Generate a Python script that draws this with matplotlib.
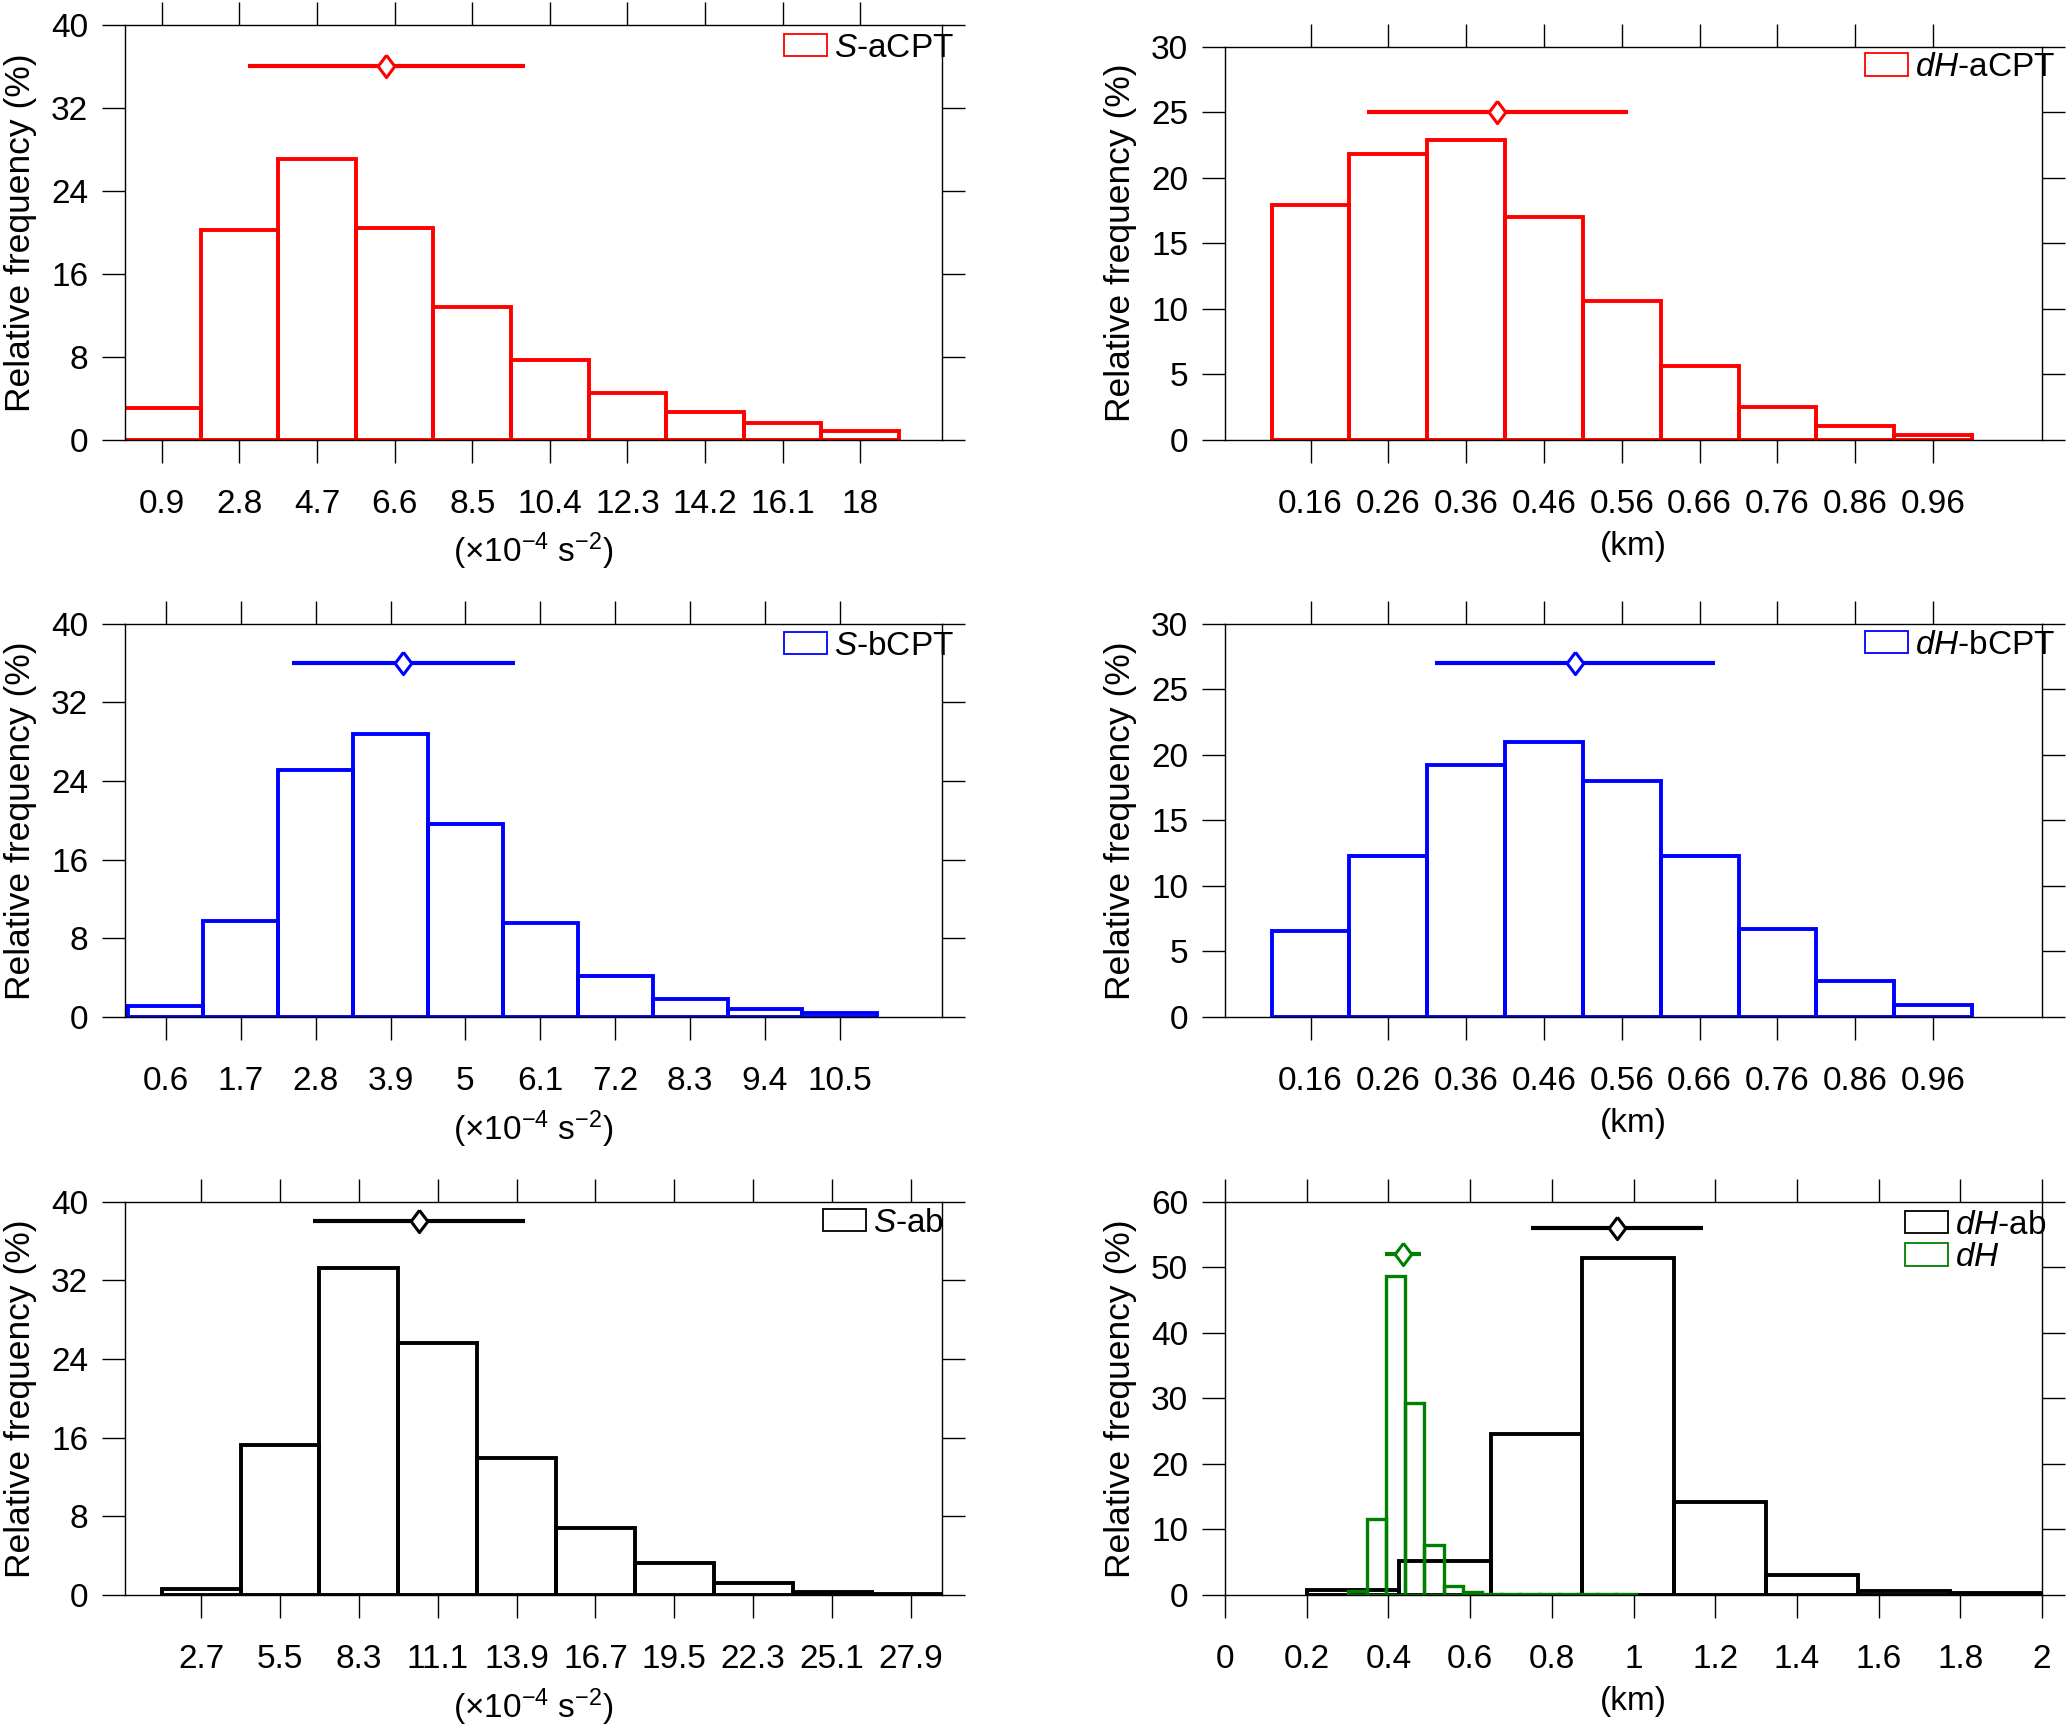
import matplotlib
matplotlib.use('Agg')
import matplotlib.pyplot as plt
from matplotlib.patches import Patch

plt.rcParams.update({
    'font.family': ['Liberation Sans', 'DejaVu Sans'],
    'mathtext.fontset': 'custom',
    'mathtext.rm': 'Liberation Sans',
    'mathtext.it': 'Liberation Sans:italic',
    'mathtext.default': 'regular',
})

# ---------------- data ----------------
# (a) S-aCPT
sa_centers = [0.9, 2.8, 4.7, 6.6, 8.5, 10.4, 12.3, 14.2, 16.1, 18.0]
sa_freq = [3.0, 20.2, 27.1, 20.4, 12.8, 7.7, 4.5, 2.7, 1.6, 0.8]
sa_labels = ['0.9', '2.8', '4.7', '6.6', '8.5', '10.4', '12.3', '14.2', '16.1', '18']
sa_mean, sa_spread, sa_level = 6.4, 3.4, 36

# (b) dH-aCPT
ha_centers = [0.16, 0.26, 0.36, 0.46, 0.56, 0.66, 0.76, 0.86, 0.96]
ha_freq = [17.9, 21.8, 22.9, 17.0, 10.6, 5.6, 2.5, 1.0, 0.35]
ha_labels = ['0.16', '0.26', '0.36', '0.46', '0.56', '0.66', '0.76', '0.86', '0.96']
ha_mean, ha_spread, ha_level = 0.40, 0.168, 25

# (c) S-bCPT
sb_centers = [0.6, 1.7, 2.8, 3.9, 5.0, 6.1, 7.2, 8.3, 9.4, 10.5]
sb_freq = [1.1, 9.8, 25.1, 28.8, 19.6, 9.6, 4.2, 1.8, 0.8, 0.45]
sb_labels = ['0.6', '1.7', '2.8', '3.9', '5', '6.1', '7.2', '8.3', '9.4', '10.5']
sb_mean, sb_spread, sb_level = 4.09, 1.64, 36

# (d) dH-bCPT
hb_centers = [0.16, 0.26, 0.36, 0.46, 0.56, 0.66, 0.76, 0.86, 0.96]
hb_freq = [6.55, 12.3, 19.25, 20.95, 18.0, 12.3, 6.7, 2.75, 0.9]
hb_labels = ha_labels
hb_mean, hb_spread, hb_level = 0.50, 0.18, 27

# (e) S-ab
sab_centers = [2.7, 5.5, 8.3, 11.1, 13.9, 16.7, 19.5, 22.3, 25.1, 27.9]
sab_freq = [0.6, 15.25, 33.3, 25.6, 13.9, 6.8, 3.2, 1.2, 0.26, 0.1]
sab_labels = ['2.7', '5.5', '8.3', '11.1', '13.9', '16.7', '19.5', '22.3', '25.1', '27.9']
sab_mean, sab_spread, sab_level = 10.45, 3.76, 38

# (f) dH-ab and dH
hab_centers = [0.3125, 0.5375, 0.7625, 0.9875, 1.2125, 1.4375, 1.6625, 1.8875]
hab_freq = [0.7, 5.1, 24.6, 51.4, 14.1, 2.95, 0.6, 0.25]
hab_mean, hab_spread, hab_level = 0.96, 0.21, 56
dh_centers = [0.3235, 0.3705, 0.4175, 0.4645, 0.5115, 0.5585, 0.6055, 0.6525,
              0.6995, 0.7465, 0.7935, 0.8405, 0.8875, 0.9345, 0.9815]
dh_freq = [0.5, 11.5, 48.7, 29.3, 7.6, 1.4, 0.45, 0.15, 0.1, 0.05, 0.05, 0.05, 0.05, 0.05, 0.05]
dh_mean, dh_spread, dh_level = 0.436, 0.044, 52
f_ticks = [0, 0.2, 0.4, 0.6, 0.8, 1.0, 1.2, 1.4, 1.6, 1.8, 2.0]
f_labels = ['0', '0.2', '0.4', '0.6', '0.8', '1', '1.2', '1.4', '1.6', '1.8', '2']

S_UNIT = '(×10$^{-4}$ s$^{-2}$)'
KM_UNIT = '(km)'

# ---------------- figure ----------------
W, H = 2067, 1730
fig = plt.figure(figsize=(W / 100, H / 100), dpi=100)

def px_axes(left, top, right, bottom):
    return [left / W, 1 - bottom / H, (right - left) / W, (bottom - top) / H]

DIAMOND = [(0, 1), (0.75, 0), (0, -1), (-0.75, 0), (0, 1)]
TICK_FS = 24

def setup(ax, xlim, ylim, yticks, xticks, xlabels, xlabel):
    ax.set_xlim(*xlim)
    ax.set_ylim(*ylim)
    ax.set_yticks(yticks)
    ax.set_xticks(xticks)
    ax.set_xticklabels(xlabels)
    ax.tick_params(which='both', direction='out', length=16.5, width=1.0,
                   top=True, right=True, labelsize=TICK_FS)
    ax.tick_params(axis='x', pad=19)
    ax.tick_params(axis='y', pad=10)
    for s in ax.spines.values():
        s.set_linewidth(1.0)
    ax.set_ylabel('Relative frequency (%)', fontsize=25.5, labelpad=10)
    ax.set_xlabel(xlabel, fontsize=TICK_FS, labelpad=8)

def hist(ax, centers, freq, width, color, lw=2.8):
    ax.bar(centers, freq, width=width, fill=False, edgecolor=color, linewidth=lw,
           align='center', zorder=2)

def spread(ax, mean, sd, level, color):
    ax.errorbar([mean], [level], xerr=[sd], fmt='none', ecolor=color,
                elinewidth=3.0, capsize=0, zorder=3)
    ax.plot([mean], [level], marker=DIAMOND, ms=16, mfc='white', mec=color,
            mew=2.2, linestyle='none', zorder=4)

def legend(ax, entries, anchor):
    handles = [Patch(facecolor='white', edgecolor=c, linewidth=1.3, label=l) for l, c in entries]
    ax.legend(handles=handles, loc='center left', bbox_to_anchor=anchor, frameon=False,
              borderpad=0, borderaxespad=0, handlelength=1.3, handleheight=0.66,
              handletextpad=0.2, fontsize=TICK_FS, labelspacing=0.05)

# (a)
ax = fig.add_axes(px_axes(125, 25, 942, 439.5))
hist(ax, sa_centers, sa_freq, 1.9, 'red')
spread(ax, sa_mean, sa_spread, sa_level, 'red')
setup(ax, (0, 20), (0, 40), [0, 8, 16, 24, 32, 40], sa_centers, sa_labels, S_UNIT)
legend(ax, [(r'$\mathit{S}$-aCPT', 'red')], (0.8066, 0.944))

# (b)
ax = fig.add_axes(px_axes(1225, 46.6, 2042, 439.5))
hist(ax, ha_centers, ha_freq, 0.1, 'red')
spread(ax, ha_mean, ha_spread, ha_level, 'red')
setup(ax, (0.05, 1.10), (0, 30), [0, 5, 10, 15, 20, 25, 30], ha_centers, ha_labels, KM_UNIT)
legend(ax, [(r'$\mathit{dH}$-aCPT', 'red')], (0.783, 0.946))

# (c)
ax = fig.add_axes(px_axes(125, 623.7, 942, 1017))
hist(ax, sb_centers, sb_freq, 1.1, 'blue')
spread(ax, sb_mean, sb_spread, sb_level, 'blue')
setup(ax, (0, 12), (0, 40), [0, 8, 16, 24, 32, 40], sb_centers, sb_labels, S_UNIT)
legend(ax, [(r'$\mathit{S}$-bCPT', 'blue')], (0.8066, 0.943))

# (d)
ax = fig.add_axes(px_axes(1225, 623.7, 2042, 1017))
hist(ax, hb_centers, hb_freq, 0.1, 'blue')
spread(ax, hb_mean, hb_spread, hb_level, 'blue')
setup(ax, (0.05, 1.10), (0, 30), [0, 5, 10, 15, 20, 25, 30], hb_centers, hb_labels, KM_UNIT)
legend(ax, [(r'$\mathit{dH}$-bCPT', 'blue')], (0.783, 0.945))

# (e)
ax = fig.add_axes(px_axes(125, 1201.8, 942, 1594.7))
hist(ax, sab_centers, sab_freq, 2.8, 'black')
spread(ax, sab_mean, sab_spread, sab_level, 'black')
setup(ax, (0, 29), (0, 40), [0, 8, 16, 24, 32, 40], sab_centers, sab_labels, S_UNIT)
legend(ax, [(r'$\mathit{S}$-ab', 'black')], (0.854, 0.946))

# (f)
ax = fig.add_axes(px_axes(1225, 1201.8, 2042, 1594.7))
hist(ax, hab_centers, hab_freq, 0.225, 'black')
hist(ax, dh_centers, dh_freq, 0.047, 'green', lw=2.4)
spread(ax, hab_mean, hab_spread, hab_level, 'black')
spread(ax, dh_mean, dh_spread, dh_level, 'green')
setup(ax, (0, 2), (0, 60), [0, 10, 20, 30, 40, 50, 60], f_ticks, f_labels, KM_UNIT)
legend(ax, [(r'$\mathit{dH}$-ab', 'black'), (r'$\mathit{dH}$', 'green')], (0.832, 0.899))

fig.savefig('out.png', dpi=100)
